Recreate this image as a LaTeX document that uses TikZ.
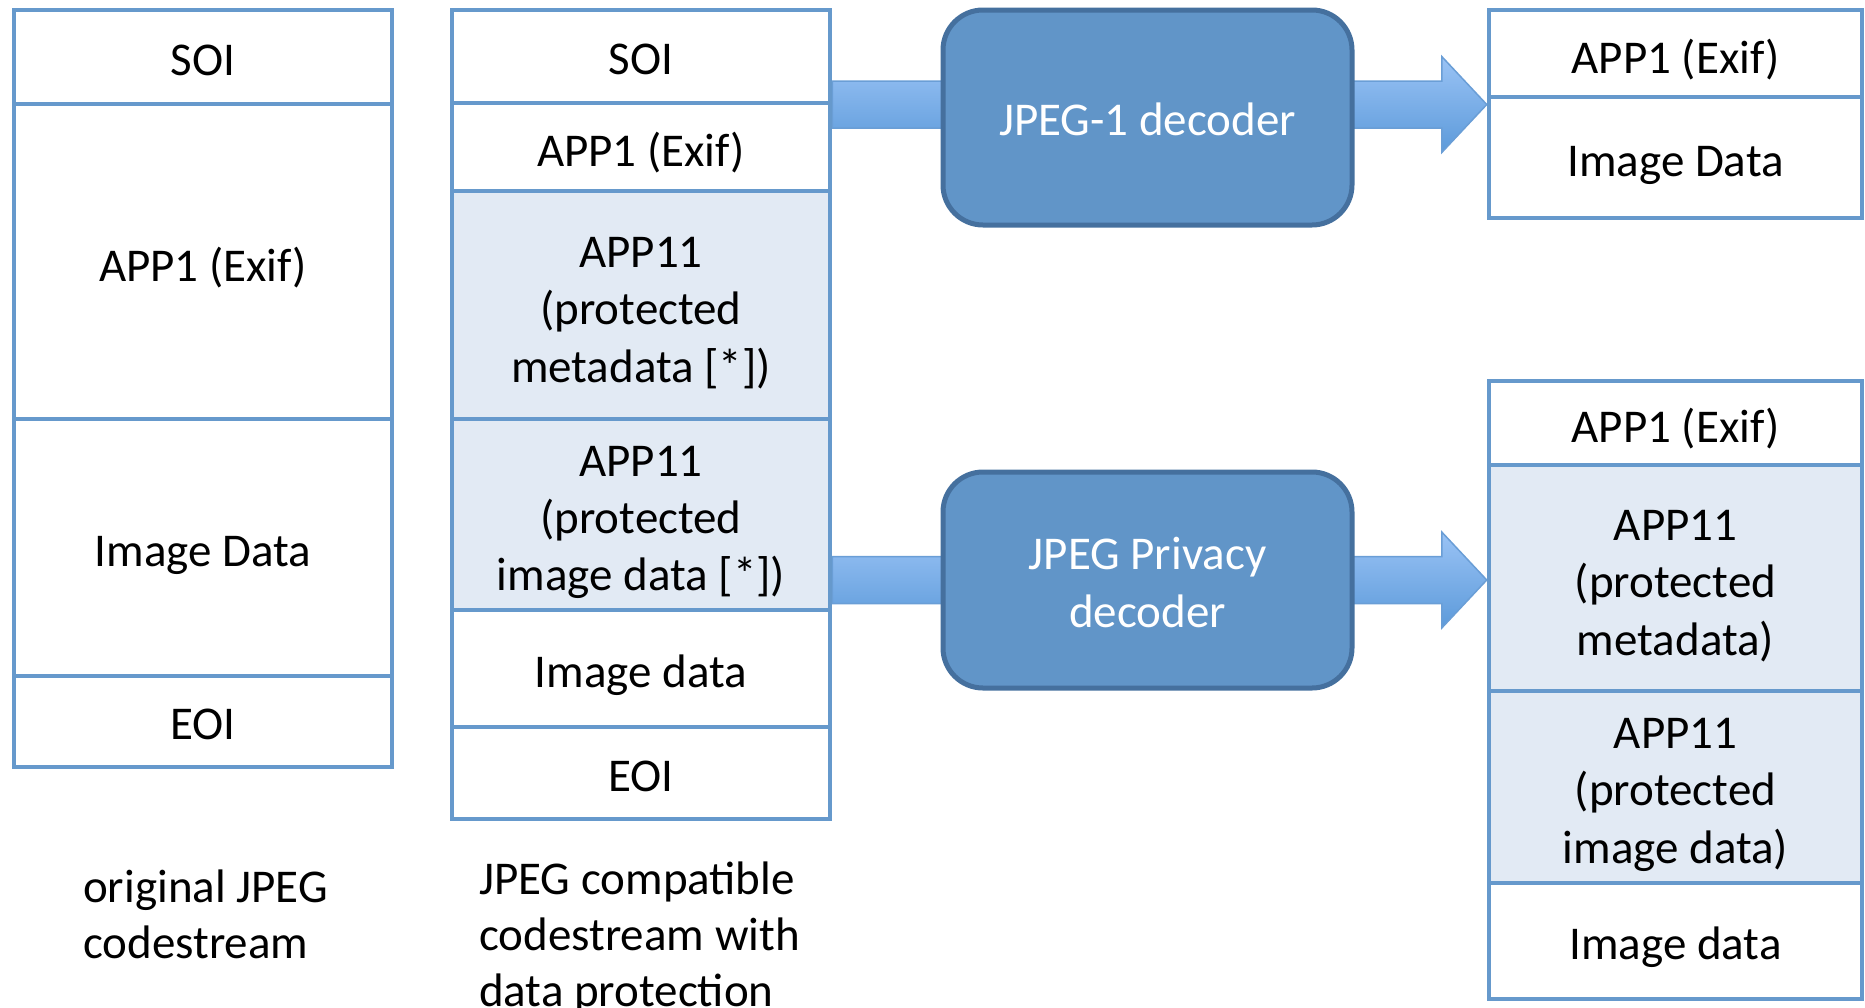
\documentclass[tikz,border=0pt]{standalone}
\usepackage{fontspec}
\setmainfont{Carlito}
\usetikzlibrary{calc}
\pgfdeclarelayer{background}
\pgfsetlayers{background,main}
\definecolor{boxline}{HTML}{6699CC}
\definecolor{shadefill}{HTML}{E2EAF4}
\definecolor{decfill}{HTML}{6195C8}
\definecolor{decline}{HTML}{45709E}
\definecolor{arrtop}{HTML}{9AC3F5}
\definecolor{arrbot}{HTML}{5C9ADA}
\definecolor{arrline}{HTML}{6A9ED6}
\newcommand{\ts}{\rule{0pt}{46pt}}
\newcommand{\tss}{\rule{0pt}{37pt}}
\tikzset{
  seg/.style={draw=boxline, line width=4.5pt, fill=white, inner sep=0pt, align=center,
    text=black, font=\fontsize{47pt}{57.3pt}\selectfont},
  shadedseg/.style={seg, fill=shadefill},
  decoder/.style={draw=decline, line width=5pt, fill=decfill, rounded corners=40pt,
    inner sep=0pt, align=center, text=white, font=\fontsize{47pt}{57.3pt}\selectfont,
    minimum width=409pt},
  caption/.style={inner sep=0pt, align=left, text=black, font=\fontsize{47pt}{56pt}\selectfont},
  blockarrow/.style={top color=arrtop, bottom color=arrbot, draw=arrline, line width=1.5pt, line join=miter}
}
\newcommand{\myblockarrow}[2]{%
  \path[blockarrow] let \p1=(#1), \p2=(#2) in
    (\x1,\y1+23.5pt) -- (\x2-45pt,\y1+23.5pt) -- (\x2-45pt,\y1+48pt) -- (\x2,\y1)
    -- (\x2-45pt,\y1-48pt) -- (\x2-45pt,\y1-23.5pt) -- (\x1,\y1-23.5pt) -- cycle;}
\begin{document}
\begin{tikzpicture}[x=1pt,y=-1pt]
\useasboundingbox (0,0) rectangle (1865,1007);
% left column: original JPEG codestream
\node[seg, minimum width=378pt, minimum height=94pt]  (l_soi)  at (203,57)    {\tss SOI};
\node[seg, minimum width=378pt, minimum height=315pt] (l_app1) at (203,261.5) {\ts APP1 (Exif)};
\node[seg, minimum width=378pt, minimum height=257pt] (l_img)  at (203,547.5) {\ts Image Data};
\node[seg, minimum width=378pt, minimum height=91pt]  (l_eoi)  at (203,721.5) {\tss EOI};
% middle column
\node[seg, minimum width=378pt, minimum height=93pt]  (m_soi)  at (641,56.5) {\tss SOI};
\node[seg, minimum width=378pt, minimum height=88pt]  (m_app1) at (641,147)  {\ts APP1 (Exif)};
\node[shadedseg, minimum width=378pt, minimum height=228pt] (m_meta) at (641,305) {\ts APP11\\(protected\\metadata [*])};
\node[shadedseg, minimum width=378pt, minimum height=191pt] (m_pimg) at (641,514.5) {\ts APP11\\(protected\\image data [*])};
\node[seg, minimum width=378pt, minimum height=117pt] (m_img)  at (641,668.5) {\ts Image data};
\node[seg, minimum width=378pt, minimum height=92pt]  (m_eoi)  at (641,773)   {\tss EOI};
% decoders
\node[decoder, minimum height=215pt] (dec1) at (1147.5,117.5) {\tss JPEG-1 decoder};
\node[decoder, minimum height=216pt] (dec2) at (1147.5,580) {\tss JPEG Privacy\\decoder};
% right top column
\node[seg, minimum width=373pt, minimum height=87pt]  (r_app1) at (1675.5,53.5)  {\ts APP1 (Exif)};
\node[seg, minimum width=373pt, minimum height=121pt] (r_img)  at (1675.5,157.5) {\ts Image Data};
% right bottom column
\node[seg, minimum width=373pt, minimum height=84pt]  (s_app1) at (1675.5,423) {\ts APP1 (Exif)};
\node[shadedseg, minimum width=373pt, minimum height=226pt] (s_meta) at (1675.5,578) {\ts APP11\\(protected\\metadata)};
\node[shadedseg, minimum width=373pt, minimum height=192pt] (s_pimg) at (1675.5,787) {\ts APP11\\(protected\\image data)};
\node[seg, minimum width=373pt, minimum height=116pt] (s_img)  at (1675.5,941) {\ts Image data};
% captions
\node[caption, anchor=west] (cap1) at (83,914) {original JPEG\\codestream};
\node[caption, anchor=west] (cap2) at (479,937.5) {JPEG compatible\\codestream with\\data protection};
% arrows
\coordinate (a1s) at ($(m_soi.east)+(0,48)$);
\coordinate (a1t) at ($(r_app1.west)+(0,50.5)$);
\coordinate (a2s) at ($(m_pimg.east)+(0,65.5)$);
\coordinate (a2t) at ($(s_meta.west)+(0,2)$);
\begin{pgfonlayer}{background}
\myblockarrow{a1s}{a1t}
\myblockarrow{a2s}{a2t}
\end{pgfonlayer}
\end{tikzpicture}
\end{document}
